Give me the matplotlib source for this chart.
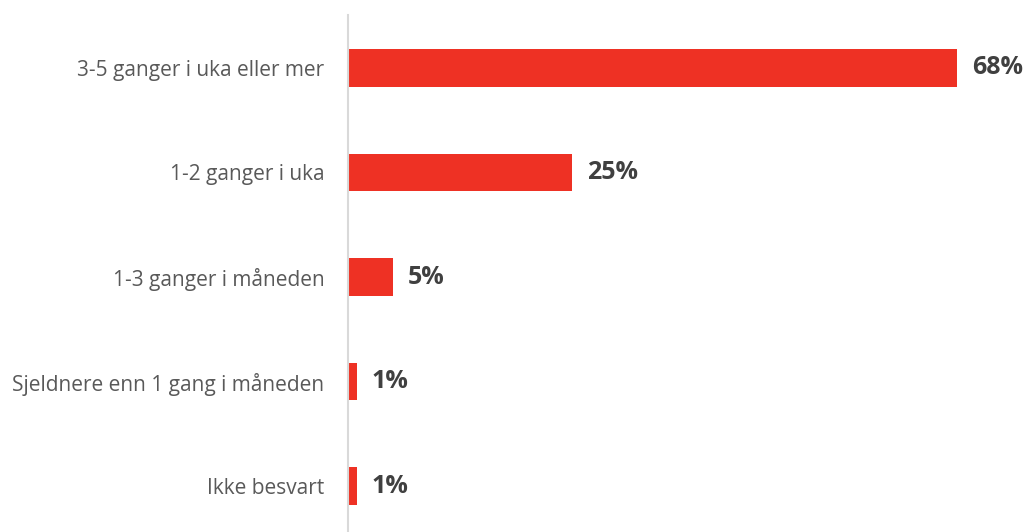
import matplotlib.pyplot as plt

categories = ['3-5 ganger i uka eller mer', '1-2 ganger i uka', '1-3 ganger i måneden',
              'Sjeldnere enn 1 gang i måneden', 'Ikke besvart']
values = [68, 25, 5, 1, 1]

plt.rcParams['font.family'] = ['Open Sans', 'DejaVu Sans']

fig = plt.figure(figsize=(10.26, 5.32), dpi=100)
ax = fig.add_axes([348 / 1026, 0, 672 / 1026, 517 / 532])

pos = list(range(len(categories)))
ax.barh(pos, values, height=0.355, color='#EE3124')

for p, v in zip(pos, values):
    ax.text(v + 1.65, p, f'{v}%', va='center', ha='left', fontsize=18,
            fontweight='bold', color='#404040')

ax.set_xlim(0, 75)
ax.set_ylim(4.44, -0.507)
ax.set_yticks(pos)
ax.set_yticklabels(categories, fontsize=15, color='#595959')
ax.tick_params(axis='y', length=0, pad=17)
ax.set_xticks([])

for s in ['top', 'right', 'bottom']:
    ax.spines[s].set_visible(False)
ax.spines['left'].set_color('#d9d9d9')
ax.spines['left'].set_linewidth(1.5)

fig.savefig('out.png', dpi=100)
